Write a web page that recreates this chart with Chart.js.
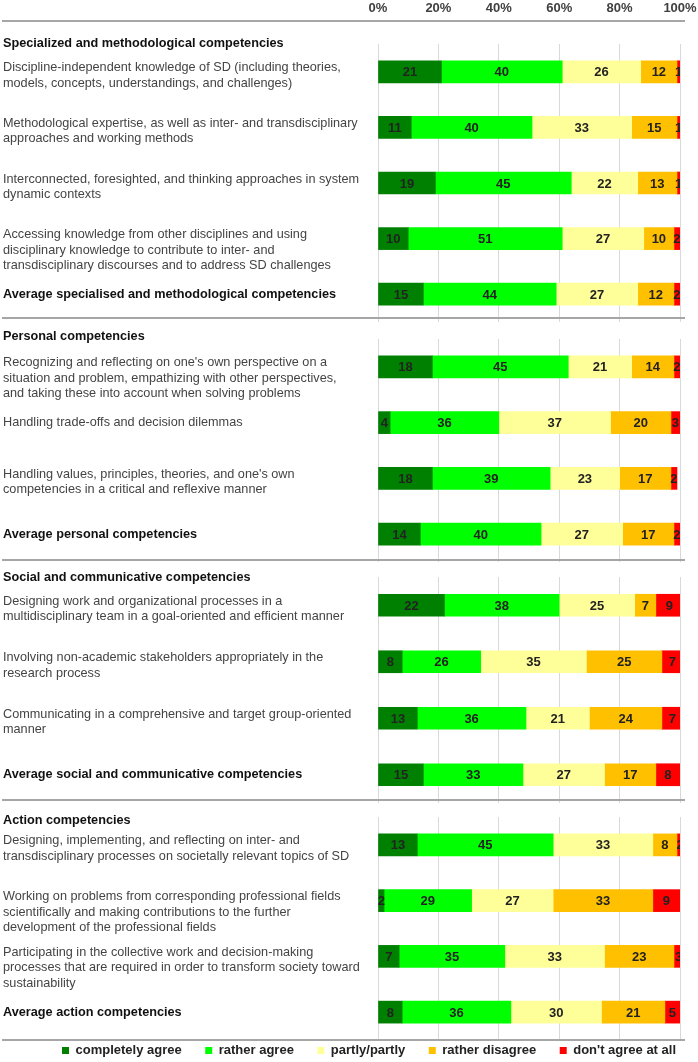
<!DOCTYPE html>
<html>
<head>
<meta charset="utf-8">
<script src="https://cdn.jsdelivr.net/npm/chart.js@4"></script>
<style>
  body { margin: 0; background: #fff; }
  #wrap { position: relative; width: 698px; height: 1062px; overflow: hidden; }
  canvas { position: absolute; left: 0; }
  .rule { position: absolute; left: 2px; width: 683px; height: 2px; background: #a6a6a6; }
  .head { position: absolute; left: 3px; font: bold 12.7px 'Liberation Sans', Arial, sans-serif; line-height: 16px; color: #111; }
</style>
</head>
<body>
<div id="wrap">
  <canvas id="c1" width="698" height="322" style="top:0"></canvas>
  <canvas id="c2" width="698" height="223" style="top:339px"></canvas>
  <canvas id="c3" width="698" height="226" style="top:577px"></canvas>
  <canvas id="c4" width="698" height="250" style="top:817px"></canvas>

  <div class="rule" style="top:20px"></div>
  <div class="rule" style="top:317px"></div>
  <div class="rule" style="top:559px"></div>
  <div class="rule" style="top:799px"></div>
  <div class="rule" style="top:1039px"></div>

  <div class="head" id="h1" style="top:35px"></div>
  <div class="head" id="h2" style="top:328px"></div>
  <div class="head" id="h3" style="top:569px"></div>
  <div class="head" id="h4" style="top:812px"></div>
</div>
<script>
// --- DATA ---
const sectionTitles = [
    'Specialized and methodological competencies',
    'Personal competencies',
    'Social and communicative competencies',
    'Action competencies'
];
const sectionSizes = [5, 4, 4, 4];

const rowLabels = [
    ['Discipline-independent knowledge of SD (including theories,', 'models, concepts, understandings, and challenges)'],
    ['Methodological expertise, as well as inter- and transdisciplinary', 'approaches and working methods'],
    ['Interconnected, foresighted, and thinking approaches in system', 'dynamic contexts'],
    ['Accessing knowledge from other disciplines and using', 'disciplinary knowledge to contribute to inter- and', 'transdisciplinary discourses and to address SD challenges'],
    ['Average specialised and methodological competencies'],
    ["Recognizing and reflecting on one's own perspective on a", 'situation and problem, empathizing with other perspectives,', 'and taking these into account when solving problems'],
    ['Handling trade-offs and decision dilemmas'],
    ["Handling values, principles, theories, and one's own", 'competencies in a critical and reflexive manner'],
    ['Average personal competencies'],
    ['Designing work and organizational processes in a', 'multidisciplinary team in a goal-oriented and efficient manner'],
    ['Involving non-academic stakeholders appropriately in the', 'research process'],
    ['Communicating in a comprehensive and target group-oriented', 'manner'],
    ['Average social and communicative competencies'],
    ['Designing, implementing, and reflecting on inter- and', 'transdisciplinary processes on societally relevant topics of SD'],
    ['Working on problems from corresponding professional fields', 'scientifically and making contributions to the further', 'development of the professional fields'],
    ['Participating in the collective work and decision-making', 'processes that are required in order to transform society toward', 'sustainability'],
    ['Average action competencies']
];

const completelyAgree = [21, 11, 19, 10, 15, 18, 4, 18, 14, 22, 8, 13, 15, 13, 2, 7, 8];
const ratherAgree     = [40, 40, 45, 51, 44, 45, 36, 39, 40, 38, 26, 36, 33, 45, 29, 35, 36];
const partlyPartly    = [26, 33, 22, 27, 27, 21, 37, 23, 27, 25, 35, 21, 27, 33, 27, 33, 30];
const ratherDisagree  = [12, 15, 13, 10, 12, 14, 20, 17, 17, 7, 25, 24, 17, 8, 33, 23, 21];
const dontAgree       = [1, 1, 1, 2, 2, 2, 3, 2, 2, 9, 7, 7, 8, 2, 9, 3, 5];

const seriesNames  = ['completely agree', 'rather agree', 'partly/partly', 'rather disagree', "don't agree at all"];
const seriesValues = [completelyAgree, ratherAgree, partlyPartly, ratherDisagree, dontAgree];
const seriesColors = ['#008000', '#00ff00', '#ffff99', '#ffc000', '#ff0000'];

const tickValues = [0, 20, 40, 60, 80, 100];

const FONT = "'Liberation Sans', Arial, sans-serif";
Chart.defaults.font.family = FONT;
Chart.defaults.font.size = 13;

// left-hand row texts, placed from the y scale
const rowText = {
    id: 'rowText',
    afterDraw(chart) {
        const ctx = chart.ctx;
        const yScale = chart.scales.y;
        chart.data.labels.forEach((lines, i) => {
            const avg = lines[0].startsWith('Average');
            const y0 = yScale.getPixelForValue(i) + (lines.length > 1 ? -4 : 0);
            ctx.save();
            ctx.font = (avg ? 'bold ' : '') + '12.7px ' + FONT;
            ctx.fillStyle = avg ? '#111' : '#444';
            ctx.textBaseline = 'middle';
            ctx.textAlign = 'left';
            lines.forEach((t, k) => ctx.fillText(t, 3, y0 + k * 15.5));
            ctx.restore();
        });
    }
};

// numbers inside the bar segments
const barValues = {
    id: 'barValues',
    afterDatasetsDraw(chart) {
        const ctx = chart.ctx, area = chart.chartArea;
        ctx.save();
        ctx.beginPath();
        ctx.rect(area.left, area.top, area.right - area.left, area.bottom - area.top);
        ctx.clip();
        ctx.font = 'bold 13px ' + FONT;
        ctx.fillStyle = '#222';
        ctx.textAlign = 'center';
        ctx.textBaseline = 'middle';
        chart.data.datasets.forEach((ds, di) => {
            chart.getDatasetMeta(di).data.forEach((bar, i) => {
                const p = bar.getCenterPoint();
                ctx.fillText(ds.data[i], p.x, p.y + 1);
            });
        });
        ctx.restore();
    }
};

function makeChart(id, section) {
    const start = sectionSizes.slice(0, section).reduce((a, b) => a + b, 0);
    const end = start + sectionSizes[section];
    const first = section === 0;
    const last = section === sectionSizes.length - 1;

    document.getElementById('h' + (section + 1)).textContent = sectionTitles[section];

    return new Chart(document.getElementById(id), {
        type: 'bar',
        data: {
            labels: rowLabels.slice(start, end),
            datasets: seriesNames.map((name, k) => ({
                label: name,
                data: seriesValues[k].slice(start, end),
                backgroundColor: seriesColors[k],
                borderWidth: 0,
                barThickness: 22
            }))
        },
        options: {
            indexAxis: 'y',
            responsive: false,
            animation: false,
            layout: { padding: { left: 0, right: 18, top: first ? 2 : 0, bottom: 0 } },
            plugins: {
                tooltip: { enabled: false },
                legend: {
                    display: last,
                    position: 'bottom',
                    align: 'end',
                    labels: {
                        boxWidth: 7,
                        boxHeight: 7,
                        padding: 4,
                        color: '#222',
                        font: { size: 13, weight: 'bold' },
                        // wider gaps between items than the legend padding gives
                        generateLabels: (chart) => {
                            const items = Chart.defaults.plugins.legend.labels.generateLabels(chart);
                            items.forEach((it, k) => {
                                if (k < items.length - 1) it.text += '\u2002\u2002\u2002';
                            });
                            return items;
                        }
                    }
                }
            },
            scales: {
                x: {
                    position: 'top',
                    stacked: true,
                    min: 0,
                    max: 100,
                    afterBuildTicks: (axis) => { axis.ticks = tickValues.map(v => ({ value: v })); },
                    afterFit: (axis) => {
                        if (first) axis.height = 42;
                        axis.paddingLeft = 0;
                        axis.paddingRight = 0;
                    },
                    grid: { color: '#d9d9d9', drawTicks: false },
                    border: { display: false },
                    ticks: {
                        display: first,
                        padding: 28,
                        color: '#404040',
                        font: { size: 13, weight: 'bold' },
                        callback: (v) => v + '%'
                    }
                },
                y: {
                    stacked: true,
                    grid: { display: false },
                    border: { display: false },
                    ticks: { display: false },
                    afterFit: (axis) => { axis.width = 378; }
                }
            }
        },
        plugins: [rowText, barValues]
    });
}

makeChart('c1', 0);
makeChart('c2', 1);
makeChart('c3', 2);
makeChart('c4', 3);
</script>
</body>
</html>
